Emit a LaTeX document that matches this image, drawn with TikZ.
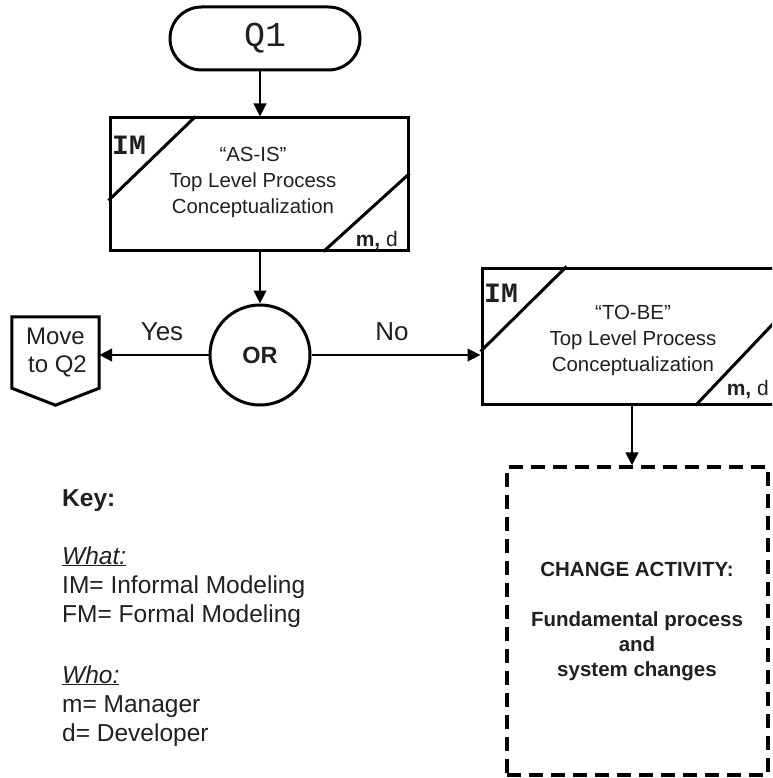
\documentclass[tikz,border=0pt]{standalone}
\usepackage{fontspec}
\setmainfont{Liberation Sans}
\newfontfamily\codefont{Liberation Mono}
\usetikzlibrary{arrows.meta,calc}
\definecolor{ink}{RGB}{35,31,32}
\tikzset{
  outline/.style={draw=black, line width=3pt},
  arr/.style={draw=black, line width=2.6pt, -{Triangle[length=13pt,width=12.5pt]}},
  procbox/.style={outline, rectangle, inner sep=0pt},
  txt/.style={text=ink, inner sep=0pt, align=center},
  boxtext/.style={txt, font=\fontsize{20.4}{26}\selectfont},
  tag/.style={text=ink, inner sep=0pt, font=\codefont\bfseries\fontsize{28}{28}\selectfont},
  who/.style={text=ink, inner sep=0pt, font=\fontsize{21}{21}\selectfont},
  branch/.style={txt, font=\fontsize{26}{26}\selectfont},
  keyline/.style={text=ink, inner sep=0pt, anchor=base west, font=\fontsize{24.5}{29}\selectfont},
}
\begin{document}
\begin{tikzpicture}[x=1pt,y=-1pt]
\useasboundingbox (0,0) rectangle (772,778);
\clip (0,0) rectangle (772,778);

% start terminal
\node[outline, rounded corners=31.5pt, minimum width=190pt, minimum height=63pt,
      inner sep=0pt, text=ink, font=\codefont\fontsize{35}{35}\selectfont]
      (q1) at (265,38.5) {Q1};

% AS-IS process box
\node[procbox, minimum width=298pt, minimum height=132pt] (asis) at (259,184) {};
\draw[outline] ($(asis.north west)+(87,0)$) -- ($(asis.north west)+(0,84)$);
\draw[outline] ($(asis.south east)+(-86,0)$) -- ($(asis.south east)+(0,-78)$);
\node[tag, anchor=west] (asisim) at (112,145) {IM};
\node[who, anchor=base east] (asiswho) at (398,246) {\textbf{m,} d};
\node[boxtext] (asistxt) at (253,182) {“AS-IS”\\Top Level Process\\Conceptualization};

% decision
\node[outline, circle, minimum size=100pt, inner sep=0pt, text=ink,
      font=\bfseries\fontsize{23.5}{23.5}\selectfont] (or) at (260,355) {OR};

% off-page connector
\node[minimum width=87pt, minimum height=71pt, inner sep=0pt, txt,
      font=\fontsize{24}{28}\selectfont] (move) at (55.5,352.5) {Move\\\,to Q2};
\draw[outline, line join=miter] (move.north west) -- (move.north east) -- (move.south east)
  -- ($(move.south)+(0,17)$) -- (move.south west) -- cycle;

% TO-BE process box (runs past the right edge)
\node[procbox, minimum width=318pt, minimum height=136pt] (tobe) at (641,336) {};
\draw[outline] ($(tobe.north west)+(86,0)$) -- ($(tobe.north west)+(0,85)$);
\draw[outline] ($(tobe.south west)+(215,0)$) -- ($(tobe.south west)+(308,-98)$);
\node[tag, anchor=west] (tobeim) at (484,293) {IM};
\node[who, anchor=base east] (tobewho) at (769,395) {\textbf{m,} d};
\node[boxtext] (tobetxt) at (633,340) {“TO-BE”\\Top Level Process\\Conceptualization};

% change activity
\node[draw=black, line width=3.2pt, dash pattern=on 14pt off 8pt, rectangle,
      minimum width=261pt, minimum height=308pt, inner sep=0pt] (change) at (637.5,621) {};
\node[txt, font=\bfseries\fontsize{20.5}{25}\selectfont] (changetxt) at (637,622)
  {CHANGE ACTIVITY:\\[25pt]Fundamental process\\and\\system changes};

% connectors
\draw[arr] (q1.south -| or.north) -- (asis.north -| or.north);
\draw[arr] (asis.south -| or.north) -- (or.north);
\draw[arr] (or.west) -- (or.west -| move.east);
\draw[arr] (or.east) -- (or.east -| tobe.west);
\coordinate (tc) at (632,404);
\draw[arr] (tc) -- (tc |- change.north);

\node[branch] (yes) at (162,332) {Yes};
\node[branch] (no) at (392,332) {No};

% key
\node[keyline, font=\bfseries\fontsize{24.5}{29}\selectfont] (k0) at (62,506) {Key:};
\node[keyline] (k1) at (62,564) {\underline{\textit{What:}}};
\node[keyline] (k2) at (62,593) {IM= Informal Modeling};
\node[keyline] (k3) at (62,622) {FM= Formal Modeling};
\node[keyline] (k4) at (62,683) {\underline{\textit{Who:}}};
\node[keyline] (k5) at (62,712) {m= Manager};
\node[keyline] (k6) at (62,741) {d= Developer};
\end{tikzpicture}
\end{document}
